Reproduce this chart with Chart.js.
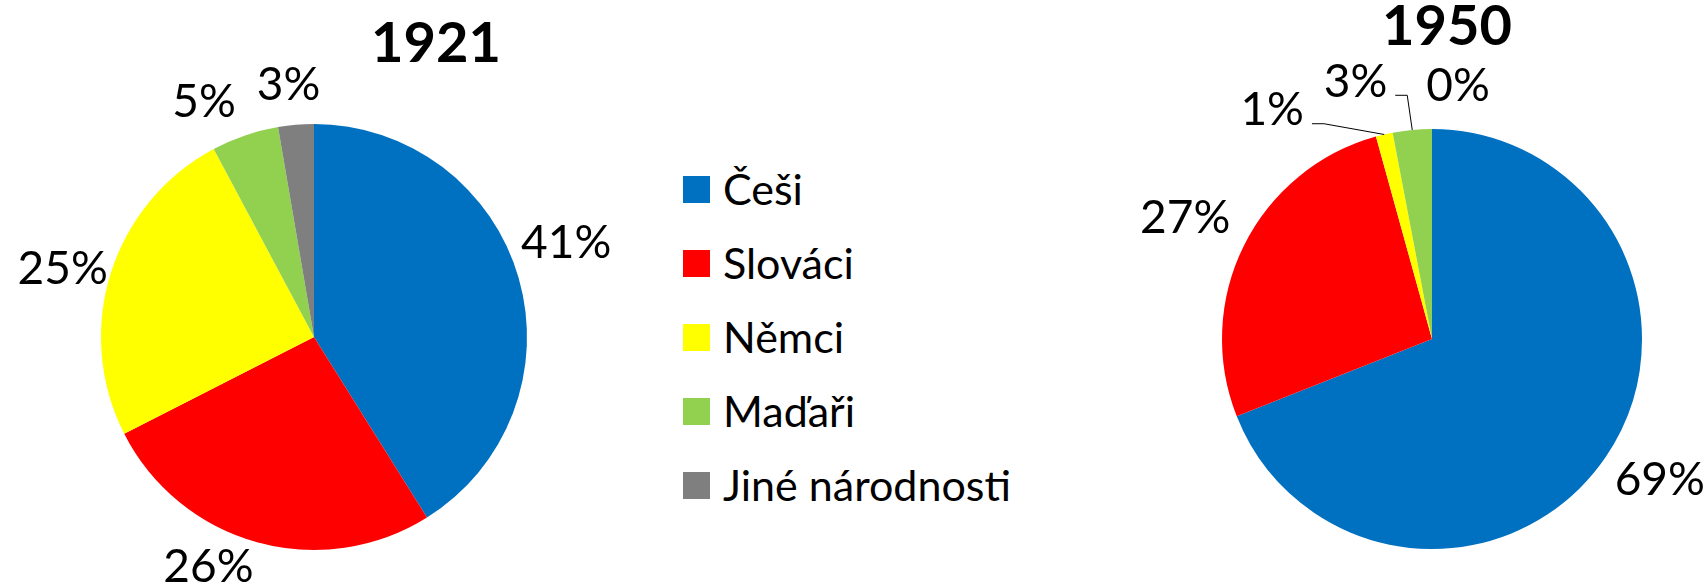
<!DOCTYPE html>
<html>
<head>
<meta charset="utf-8">
<script src="https://cdn.jsdelivr.net/npm/chart.js@4.4.1/dist/chart.umd.min.js"></script>
<style>
  html, body { margin: 0; padding: 0; background: #fff; }
  body { width: 1707px; height: 587px; position: relative; overflow: hidden; font-family: Lato, "Noto Sans", sans-serif; }
  .box { position: absolute; top: 0; height: 587px; }
  #legend { position: absolute; left: 683px; top: 176px; }
  .row { position: relative; height: 74px; }
  .sw { position: absolute; left: 0; top: 0; width: 27px; height: 27px; }
  .lbl { position: absolute; left: 40px; top: -10px; font-size: 43px; line-height: 46px; color: #000; white-space: nowrap; }
</style>
</head>
<body>
<div class="box" style="left:0;width:640px"><canvas id="c1921"></canvas></div>
<div class="box" style="left:1100px;width:607px"><canvas id="c1950"></canvas></div>
<div id="legend"></div>
<script>
// data
const categories = ['Češi', 'Slováci', 'Němci', 'Maďaři', 'Jiné národnosti'];
const colors = ['#0070C0', '#FF0000', '#FFFF00', '#92D050', '#7F7F7F'];
const values1921 = [41.1, 26.4, 24.7, 5.1, 2.7];
const values1950 = [69.0, 26.7, 1.3, 3.0, 0.0];

// label nudges (px) from the default outside anchor
const nudges1921 = [[9, -26], [-38, -15], [-10, 6], [-28, 3], [-4, -1]];
const nudges1950 = [[21, -1], [-23, -11], [-103, 13], [-53, -10], [26, -5]];

const LABEL_FONT = 46;
const TITLE_FONT = 56;

const pieLabels = {
    id: 'pieLabels',
    afterDraw(chart, args, opts) {
        const ctx = chart.ctx;
        const meta = chart.getDatasetMeta(0);
        const data = chart.data.datasets[0].data;
        ctx.save();
        ctx.fillStyle = '#000';
        ctx.textAlign = 'center';
        ctx.textBaseline = 'alphabetic';

        // title
        ctx.font = 'bold ' + TITLE_FONT + 'px Lato';
        ctx.fillText(opts.title, opts.titleX, opts.titleY + TITLE_FONT * 0.36);

        ctx.font = LABEL_FONT + 'px Lato';
        meta.data.forEach((arc, i) => {
            const mid = (arc.startAngle + arc.endAngle) / 2;
            const r = arc.outerRadius;
            const nx = (opts.nudges[i] || [0, 0])[0];
            const ny = (opts.nudges[i] || [0, 0])[1];
            const cx = arc.x + Math.cos(mid) * (r + 40) + nx;
            const cy = arc.y + Math.sin(mid) * (r + 40) + ny;
            const text = Math.round(data[i]) + '%';
            ctx.fillText(text, cx, cy + LABEL_FONT * 0.36);

            if (opts.leaders && opts.leaders.includes(i)) {
                const w = ctx.measureText(text).width;
                const ly = cy + LABEL_FONT * 0.33;
                const x0 = cx + w / 2 + 8;
                ctx.beginPath();
                ctx.strokeStyle = '#000';
                ctx.lineWidth = 1;
                ctx.moveTo(x0, ly);
                ctx.lineTo(x0 + 12, ly);
                ctx.lineTo(arc.x + Math.cos(mid) * r, arc.y + Math.sin(mid) * r);
                ctx.stroke();
            }
        });
        ctx.restore();
    }
};

function makePie(id, values, padding, labelOpts) {
    return new Chart(document.getElementById(id), {
        type: 'pie',
        data: {
            labels: categories,
            datasets: [{
                data: values,
                backgroundColor: colors,
                borderWidth: 0,
                hoverOffset: 0
            }]
        },
        options: {
            responsive: true,
            maintainAspectRatio: false,
            animation: false,
            events: [],
            layout: { padding: padding },
            plugins: {
                legend: { display: false },
                tooltip: { enabled: false },
                pieLabels: labelOpts
            }
        },
        plugins: [pieLabels]
    });
}

makePie('c1921', values1921, { left: 101, right: 113, top: 124, bottom: 37 },
    { title: '1921', titleX: 436, titleY: 42, nudges: nudges1921 });
makePie('c1950', values1950, { left: 122, right: 65, top: 129, bottom: 38 },
    { title: '1950', titleX: 347, titleY: 25, nudges: nudges1950, leaders: [2, 3] });

// legend
const legend = document.getElementById('legend');
categories.forEach((name, i) => {
    const row = document.createElement('div');
    row.className = 'row';
    row.innerHTML = '<div class="sw" style="background:' + colors[i] + '"></div><div class="lbl">' + name + '</div>';
    legend.appendChild(row);
});
</script>
</body>
</html>
